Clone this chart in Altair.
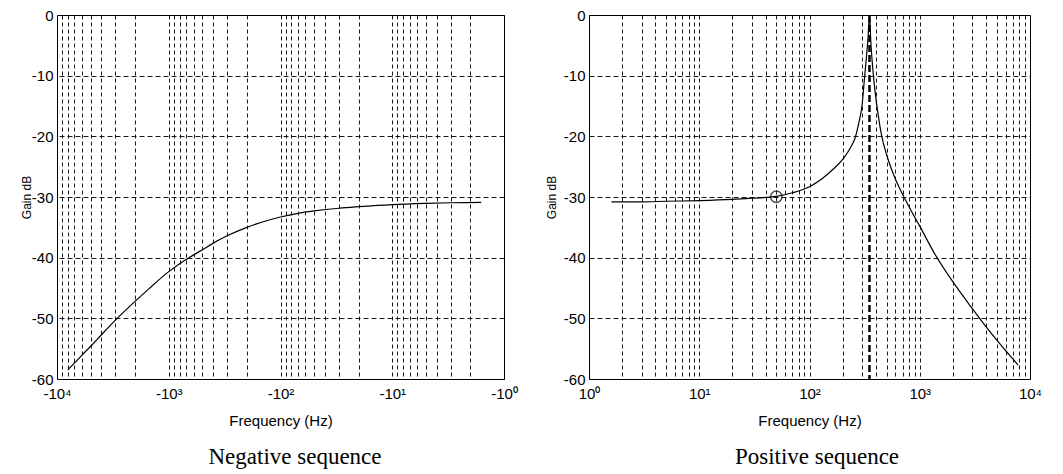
import altair as alt
import pandas as pd

# ---- data ----
# Negative sequence: frequency (Hz, negative) and gain (dB)
neg_freq = [-8000, -6000, -5000, -4000, -3000, -2000, -1500, -1000, -700, -500,
            -400, -300, -200, -150, -100, -70, -50, -30, -20, -10, -5, -3, -1.6]
neg_gain = [-58.5, -56.1, -54.6, -52.7, -50.3, -47.2, -45.1, -42.3, -40.3, -38.7,
            -37.6, -36.4, -35.0, -34.2, -33.3, -32.7, -32.3, -31.85, -31.6, -31.25, -31.05,
            -30.95, -30.9]

# Positive sequence
pos_freq = [1.6, 3, 5, 10, 20, 30, 50, 70, 100, 130, 160, 200, 240, 260, 280, 300, 315,
            330, 340, 350, 360, 380, 420, 450, 500, 600, 700, 850, 1000, 1360, 2000,
            3000, 3560, 4000, 5000, 6000, 7000, 7800]
pos_gain = [-30.8, -30.8, -30.7, -30.6, -30.4, -30.2, -29.9, -29.3, -28.3, -27.0, -25.6,
            -23.8, -21.6, -20.2, -17.8, -14.8, -10.5, -6.5, -3.6, 0.0, -4.5, -10.0, -16.5,
            -19.8, -23.0, -27.0, -29.6, -32.5, -34.8, -39.3, -44.0, -48.4, -50.2, -51.4,
            -53.6, -55.3, -56.7, -57.7]

marker_freq = [50]
marker_gain = [-29.95]
resonance_freq = [350]

gain_ticks = [-60, -50, -40, -30, -20, -10, 0]
decades = [1, 10, 100, 1000, 10000]
decade_sup = ["\u2070", "\u00b9", "\u00b2", "\u00b3", "\u2074"]
freq_grid = [m * 10 ** k for k in range(4) for m in range(1, 10)] + [10000]

captions = ["Negative sequence", "Positive sequence"]

# ---- layout constants ----
W_L, W_R, H = 447, 441, 364
SANS = "Liberation Sans"
SERIF = "Liberation Serif"


def label_expr(prefix):
    parts = [f"datum.value == {v} ? '{prefix}10{s}'" for v, s in zip(decades, decade_sup)]
    return " : ".join(parts) + " : ''"


def x_axis(prefix):
    return alt.Axis(
        values=freq_grid, labelExpr=label_expr(prefix), grid=True, gridColor="black",
        gridDash=[4, 3], gridWidth=1, gridOpacity=0.9, ticks=False, tickSize=0, domain=False,
        labelFont=SANS, labelFontSize=15, labelColor="black", labelPadding=7,
        labelOverlap=False, labelFlush=False, labelBound=False,
        title="Frequency (Hz)", titleFont=SANS, titleFontSize=15, titleFontWeight="normal",
        titleColor="black", titleY=41, titleBaseline="middle")


def y_axis(title_x):
    return alt.Axis(
        values=gain_ticks, labelExpr="'' + datum.value", grid=True, gridColor="black",
        gridDash=[5, 3], gridWidth=1, gridOpacity=0.9, ticks=False, tickSize=0, domain=False,
        labelFont=SANS, labelFontSize=15, labelColor="black", labelPadding=4,
        labelOverlap=False, labelFlush=False, labelBound=False,
        title="Gain dB", titleFont=SANS, titleFontSize=12, titleFontWeight="normal",
        titleColor="black", titleX=title_x, titleY=H / 2, titleAngle=270,
        titleBaseline="middle", titleAlign="center")


ydom = alt.Scale(domain=[-60, 0], nice=False, zero=False)

# ---- negative sequence panel ----
neg_df = pd.DataFrame({"f": neg_freq, "g": neg_gain})
neg_line = alt.Chart(neg_df).transform_calculate(af="-datum.f").mark_line(
    color="black", strokeWidth=1.2, clip=True, interpolate="monotone"
).encode(
    x=alt.X("af:Q", scale=alt.Scale(type="log", domain=[1, 10000], reverse=True, nice=False),
            axis=x_axis("-")),
    y=alt.Y("g:Q", scale=ydom, axis=y_axis(-31)),
)
neg_cap = alt.Chart(pd.DataFrame({"t": [captions[0]]})).mark_text(
    font=SERIF, fontSize=23, color="black", baseline="middle", align="center"
).encode(text="t:N", x=alt.value(238), y=alt.value(442))
left = alt.layer(neg_line, neg_cap).properties(width=W_L, height=H)

# ---- positive sequence panel ----
pos_df = pd.DataFrame({"f": pos_freq, "g": pos_gain})
xscale_r = alt.Scale(type="log", domain=[1, 10000], nice=False)
pos_line = alt.Chart(pos_df).mark_line(
    color="black", strokeWidth=1.2, clip=True, interpolate="monotone"
).encode(
    x=alt.X("f:Q", scale=xscale_r, axis=x_axis("")),
    y=alt.Y("g:Q", scale=ydom, axis=y_axis(-38)),
)
res_rule = alt.Chart(pd.DataFrame({"f": resonance_freq})).mark_rule(
    color="black", strokeWidth=2.5, strokeDash=[7, 3]
).encode(x=alt.X("f:Q", scale=xscale_r), y=alt.value(0), y2=alt.value(H))
marker = alt.Chart(pd.DataFrame({"f": marker_freq, "g": marker_gain})).mark_point(
    shape="circle", filled=False, color="black", size=130, strokeWidth=1.5
).encode(x=alt.X("f:Q", scale=xscale_r), y=alt.Y("g:Q", scale=ydom))
pos_cap = alt.Chart(pd.DataFrame({"t": [captions[1]]})).mark_text(
    font=SERIF, fontSize=23, color="black", baseline="middle", align="center"
).encode(text="t:N", x=alt.value(228), y=alt.value(442))
right = alt.layer(pos_line, res_rule, marker, pos_cap).properties(width=W_R, height=H)

chart = alt.hconcat(left, right, spacing=85, bounds="flush").properties(
    padding={"left": 19, "top": 7, "right": 5, "bottom": 5},
    background="white",
).configure_view(stroke="black", strokeWidth=1)

chart.save("out.html", embed_options={"renderer": "svg", "actions": False})
